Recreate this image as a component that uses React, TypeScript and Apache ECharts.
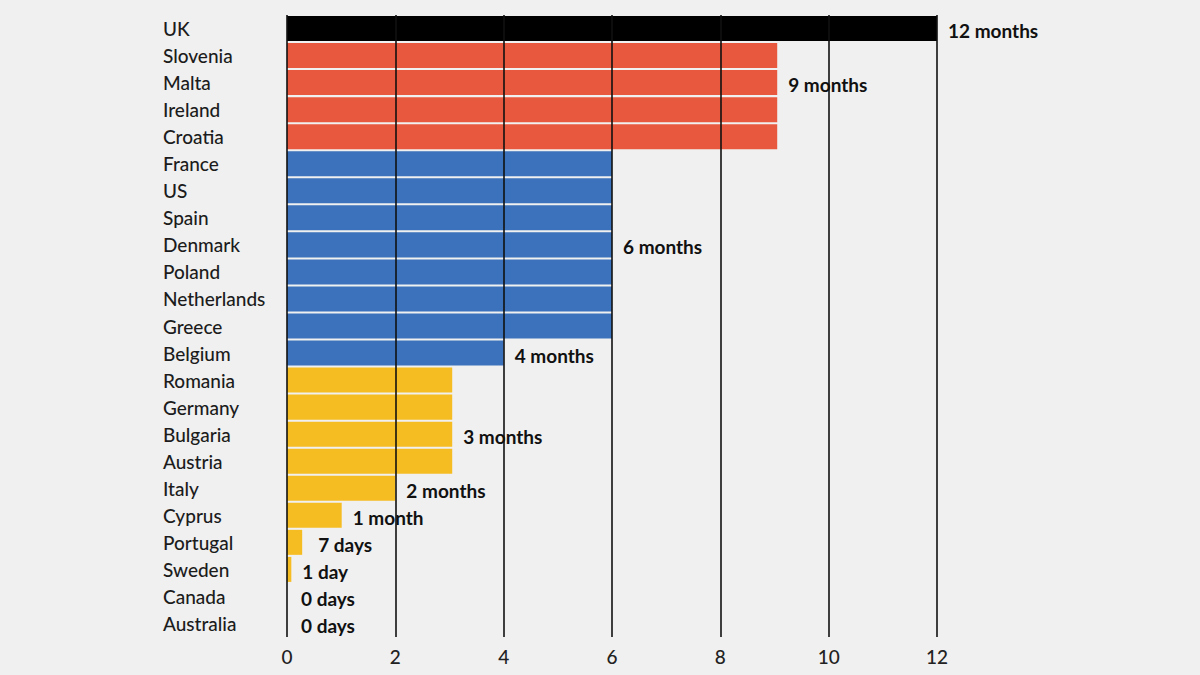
import React, { useEffect, useRef } from "react";
import * as echarts from "echarts";

const categories = [
  "UK", "Slovenia", "Malta", "Ireland", "Croatia", "France", "US", "Spain", "Denmark",
  "Poland", "Netherlands", "Greece", "Belgium", "Romania", "Germany", "Bulgaria", "Austria",
  "Italy", "Cyprus", "Portugal", "Sweden", "Canada", "Australia",
];
const values = [12, 9.05, 9.05, 9.05, 9.05, 6, 6, 6, 6, 6, 6, 6, 4, 3.05, 3.05, 3.05, 3.05, 2, 1.01, 0.28, 0.08, 0, 0];
const groups = ["uk", "red", "red", "red", "red", "blue", "blue", "blue", "blue", "blue", "blue", "blue", "blue",
  "yellow", "yellow", "yellow", "yellow", "yellow", "yellow", "yellow", "yellow", "yellow", "yellow"];
const valueLabels = ["12 months", "", "9 months", "", "", "", "", "", "6 months", "", "", "", "4 months",
  "", "", "3 months", "", "2 months", "1 month", "7 days", "1 day", "0 days", "0 days"];
const xTicks = [0, 2, 4, 6, 8, 10, 12];

const groupColors: Record<string, string> = {
  uk: "#000000",
  red: "#e8583f",
  blue: "#3b72bb",
  yellow: "#f6bd22",
};

export default function App() {
  const ref = useRef<HTMLDivElement>(null);
  useEffect(() => {
    document.body.style.margin = "0";
    const chart = echarts.init(ref.current!, null, { renderer: "svg" });
    const data = values.map((v, i) => ({
      value: v,
      itemStyle: { color: groupColors[groups[i]] },
      label: {
        show: valueLabels[i] !== "",
        formatter: valueLabels[i],
        offset: valueLabels[i] === "7 days" ? [5, 2] : valueLabels[i] === "0 days" ? [3, 2] : [0, 2],
      },
    }));
    chart.setOption({
      animation: false,
      backgroundColor: "#f0f0f0",
      grid: { left: 287, right: 263, top: 15, bottom: 38, containLabel: false },
      xAxis: {
        type: "value",
        min: xTicks[0],
        max: xTicks[xTicks.length - 1],
        interval: 2,
        z: 5,
        axisLine: { show: false },
        axisTick: { show: false },
        splitLine: { show: true, lineStyle: { color: "#111", width: 1.6 } },
        axisLabel: {
          margin: 10,
          fontFamily: "Lato",
          fontSize: 19,
          fontWeight: 500,
          color: "#222",
        },
      },
      yAxis: {
        type: "category",
        data: categories,
        inverse: true,
        axisLine: { show: false },
        axisTick: { show: false },
        axisLabel: {
          align: "left",
          margin: 124,
          fontFamily: "Lato",
          fontSize: 19,
          fontWeight: 500,
          color: "#1c1c1c",
        },
      },
      series: [
        {
          type: "bar",
          data,
          barCategoryGap: "7.5%",
          label: {
            position: "right",
            distance: 11,
            fontFamily: "Lato",
            fontWeight: "bold",
            fontSize: 19,
            color: "#111",
          },
        },
      ],
    });
    return () => chart.dispose();
  }, []);
  return <div ref={ref} style={{ position: "fixed", left: 0, top: 0, width: 1200, height: 675 }} />;
}
